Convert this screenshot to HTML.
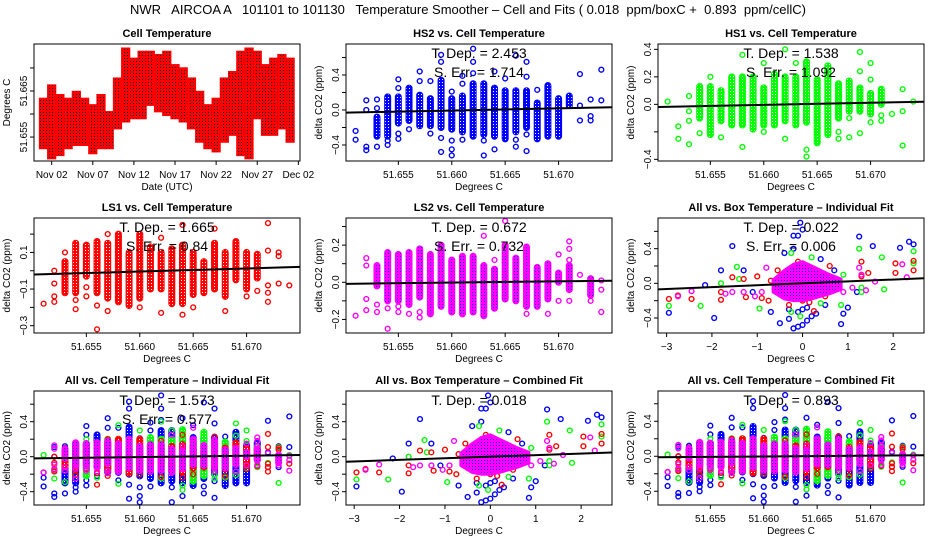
<!DOCTYPE html>
<html><head><meta charset="utf-8"><style>
html,body{margin:0;padding:0;background:#fff}
svg{display:block}
text{font-family:"Liberation Sans",sans-serif}
#mt{white-space:pre}
</style></head><body>
<svg id="c" width="936" height="540" viewBox="0 0 936 540">
<defs>
<pattern id="pRed" width="3" height="3" patternUnits="userSpaceOnUse"><rect width="3" height="3" fill="#f00"/><rect x="1" y="1" width="1" height="1" fill="#000"/></pattern>
<pattern id="pBlue" width="3" height="3" patternUnits="userSpaceOnUse"><rect width="3" height="3" fill="#00f"/><rect x="1" y="1" width="1" height="1" fill="#fff"/></pattern>
<pattern id="pGreen" width="3" height="3" patternUnits="userSpaceOnUse"><rect width="3" height="3" fill="#0f0"/><rect x="1" y="1" width="1" height="1" fill="#fff"/></pattern>
<pattern id="pRedW" width="3" height="3" patternUnits="userSpaceOnUse"><rect width="3" height="3" fill="#f00"/><rect x="1" y="1" width="1" height="1" fill="#fff"/></pattern>
<pattern id="pMag" width="3" height="3" patternUnits="userSpaceOnUse"><rect width="3" height="3" fill="#f0f"/><rect x="1" y="1" width="1" height="1" fill="#00f"/></pattern>
</defs>
<text id="mt" x="468" y="14" text-anchor="middle" font-size="13">NWR   AIRCOA A   101101 to 101130   Temperature Smoother – Cell and Fits ( 0.018  ppm/boxC +  0.893  ppm/cellC)</text>
</svg>
<script>
// ---- time series (cell temperature) ----
const tsDay=[1,2,3,4,5,6,7,8,9,10,11,12,13,14,15,16,17,18,19,20,21,22,23,24,25,26,27,28,29,30,31];
const tsHi=[51.6630,51.6659,51.6638,51.6630,51.6645,51.6630,51.6616,51.6638,51.6601,51.6674,51.6739,51.6717,51.6732,51.6732,51.6725,51.6732,51.6703,51.6696,51.6674,51.6645,51.6616,51.6630,51.6674,51.6688,51.6732,51.6739,51.6732,51.6703,51.6717,51.6725,51.6717];
const tsLo=[51.6529,51.6507,51.6514,51.6529,51.6536,51.6536,51.6518,51.6529,51.6529,51.6572,51.6587,51.6594,51.6594,51.6623,51.6609,51.6601,51.6594,51.6587,51.6572,51.6543,51.6529,51.6522,51.6543,51.6558,51.6514,51.6507,51.6594,51.6558,51.6558,51.6572,51.6543];
const tsTickDays=[2,7,12,17,22,27,32];
const tsTickLabels=["Nov 02","Nov 07","Nov 12","Nov 17","Nov 22","Nov 27","Dec 02"];
// ---- cell temperature bins ----
const cellBins=[51.651,51.652,51.653,51.654,51.655,51.656,51.657,51.658,51.659,51.660,51.661,51.662,51.663,51.664,51.665,51.666,51.667,51.668,51.669,51.670,51.671,51.672,51.673,51.674];
const hs2Hi=[null,null,-0.08,0.15,0.15,0.25,0.17,0.13,0.34,0.13,0.16,0.3,0.3,0.25,0.22,0.22,0.22,0.08,0.28,0.13,0.16,null,null,null];
const hs2Lo=[null,null,-0.3,-0.3,-0.15,-0.12,-0.18,-0.18,-0.2,-0.22,-0.25,-0.3,-0.28,-0.3,-0.33,-0.25,-0.2,-0.33,-0.3,-0.3,0.05,null,null,null];
const hs2Out=[[51.651,-0.24],[51.651,-0.34],[51.652,0.11],[51.652,0.0],[51.652,-0.42],[51.652,-0.46],[51.653,0.12],[51.653,0.02],[51.653,-0.42],[51.654,-0.35],[51.654,-0.4],[51.655,0.35],[51.655,0.25],[51.655,-0.27],[51.655,-0.33],[51.656,-0.22],[51.657,0.44],[51.657,0.33],[51.658,0.33],[51.658,-0.27],[51.659,0.63],[51.659,0.55],[51.659,-0.32],[51.659,-0.48],[51.660,0.21],[51.660,-0.35],[51.660,-0.45],[51.660,-0.52],[51.661,0.39],[51.661,0.3],[51.661,-0.34],[51.662,0.7],[51.662,0.55],[51.662,0.42],[51.663,-0.35],[51.663,-0.52],[51.664,0.44],[51.664,-0.45],[51.665,0.36],[51.666,0.62],[51.666,-0.34],[51.666,-0.42],[51.667,0.55],[51.667,0.38],[51.667,-0.28],[51.667,-0.47],[51.668,0.23],[51.672,0.41],[51.672,0.05],[51.672,-0.12],[51.673,0.12],[51.673,-0.07],[51.673,-0.12],[51.674,0.46],[51.674,0.11]];
const hs1Hi=[null,null,null,0.13,0.13,0.1,0.2,0.2,0.2,0.12,0.22,0.2,0.2,0.31,0.18,0.28,0.15,0.17,0.12,0.08,0.11,null,null,null];
const hs1Lo=[null,null,null,-0.1,-0.22,-0.12,-0.15,-0.15,-0.18,-0.15,-0.15,-0.12,-0.15,-0.13,-0.28,-0.22,-0.1,-0.05,-0.05,-0.07,0.0,null,null,null];
const hs1Out=[[51.651,0.02],[51.652,-0.16],[51.652,-0.25],[51.653,0.06],[51.653,-0.05],[51.653,-0.12],[51.653,-0.29],[51.654,-0.21],[51.655,0.2],[51.656,-0.24],[51.658,0.36],[51.658,-0.31],[51.660,0.3],[51.660,-0.2],[51.662,0.4],[51.662,-0.25],[51.663,0.3],[51.664,-0.33],[51.664,-0.38],[51.667,-0.2],[51.667,-0.25],[51.668,-0.1],[51.668,-0.24],[51.669,0.38],[51.669,0.24],[51.669,-0.21],[51.670,0.3],[51.670,0.18],[51.670,-0.13],[51.671,-0.08],[51.671,-0.12],[51.672,-0.07],[51.673,0.11],[51.673,-0.05],[51.673,-0.3],[51.674,0.02]];
const ls1Hi=[null,null,0.05,0.15,0.14,0.16,0.15,0.2,0.1,0.2,0.13,0.1,0.12,0.14,0.1,0.05,0.15,0.1,0.16,0.1,0.09,null,null,null];
const ls1Lo=[null,null,-0.12,-0.12,-0.03,-0.12,-0.15,-0.17,-0.19,-0.15,-0.1,-0.1,-0.18,-0.18,-0.13,-0.12,-0.1,-0.14,-0.05,-0.1,-0.04,null,null,null];
const ls1Out=[[51.651,-0.18],[51.652,0.0],[51.652,-0.07],[51.652,-0.14],[51.652,-0.17],[51.653,0.1],[51.654,-0.16],[51.654,-0.21],[51.655,-0.09],[51.655,-0.14],[51.656,-0.19],[51.656,-0.32],[51.657,0.2],[51.657,-0.22],[51.660,-0.2],[51.662,0.18],[51.662,-0.23],[51.664,0.25],[51.664,-0.24],[51.665,-0.2],[51.667,0.23],[51.668,-0.22],[51.670,-0.14],[51.671,-0.11],[51.672,0.26],[51.672,0.11],[51.672,-0.08],[51.672,-0.12],[51.672,-0.17],[51.673,0.1],[51.673,0.08],[51.673,-0.07],[51.674,-0.08]];
const ls2Hi=[null,null,0.09,0.16,0.15,0.16,0.18,0.15,0.2,0.12,0.14,0.14,0.09,0.07,0.2,0.13,0.19,0.08,0.1,0.05,0.09,null,0.02,null];
const ls2Lo=[null,null,-0.02,-0.1,-0.1,-0.12,-0.08,-0.17,-0.13,-0.16,-0.17,-0.16,-0.18,-0.14,-0.09,-0.1,-0.13,-0.13,-0.09,0.0,-0.04,null,-0.07,null];
const ls2Out=[[51.651,-0.18],[51.652,0.13],[51.652,0.09],[51.652,-0.09],[51.652,-0.15],[51.653,-0.12],[51.653,-0.16],[51.654,-0.14],[51.654,-0.25],[51.655,-0.13],[51.655,-0.16],[51.656,-0.17],[51.657,-0.16],[51.657,-0.19],[51.663,0.25],[51.664,0.12],[51.665,0.33],[51.667,-0.17],[51.669,-0.17],[51.670,0.15],[51.670,-0.1],[51.671,0.22],[51.671,0.18],[51.671,0.12],[51.671,-0.1],[51.672,0.04],[51.673,-0.1],[51.674,0.01],[51.674,-0.04],[51.674,-0.16]];
// ---- box temperature scatter ----
const blobX=[-0.65,-0.4,-0.2,0,0.2,0.4,0.6,0.85];
const blobHi=[0.04,0.15,0.22,0.25,0.2,0.15,0.1,0.05];
const blobLo=[-0.1,-0.18,-0.2,-0.2,-0.18,-0.15,-0.12,-0.07];
const boxBlue=[[-2.95,-0.34],[-1.95,-0.4],[-1.55,0.43],[-1.8,0.15],[-2.15,-0.02],[-1.3,0.15],[-0.7,-0.33],[-0.5,-0.46],[-0.3,-0.41],[-0.2,-0.52],[-0.1,-0.5],[0,-0.48],[0.1,-0.43],[0.2,-0.38],[0.3,-0.35],[-0.05,0.7],[0,0.62],[-0.2,0.55],[-0.1,0.55],[-0.2,0.4],[-0.4,0.35],[0.4,0.28],[0.85,-0.47],[0.9,-0.35],[1.0,-0.28],[1.25,0.54],[1.55,0.43],[1.2,-0.1],[2.15,0.41],[2.35,0.48],[2.45,0.45],[-0.3,-0.3],[0.5,-0.25],[0.7,0.15],[-1.1,-0.1],[-0.1,-0.33],[0.0,-0.3],[0.1,-0.28]];
const boxGreen=[[-2.95,-0.26],[-2.25,-0.26],[-1.45,0.19],[-1.8,0.0],[-0.95,-0.29],[-0.25,-0.33],[-0.05,-0.38],[0.2,0.3],[-0.25,0.35],[1.25,0.4],[1.75,0.3],[1.8,-0.07],[2.45,0.37],[2.45,0.23],[0.85,-0.25],[0.4,-0.23],[1.3,-0.05],[1.3,-0.1],[-1.4,0.05],[0.9,0.1]];
const boxRed=[[-2.95,-0.18],[-2.75,-0.14],[-2.45,-0.18],[-1.8,-0.1],[-1.8,-0.19],[-1.55,0.07],[-1.3,0.05],[-1.25,-0.16],[-1.0,0.08],[-0.9,-0.17],[-0.75,-0.2],[-0.7,0.03],[-0.55,0.15],[-0.3,-0.25],[-0.1,0.25],[0.15,-0.22],[0.25,-0.32],[0.5,-0.15],[0.6,0.2],[1.3,0.25],[1.45,0.12],[1.3,0.08],[2.05,0.23],[2.05,0.12],[2.45,0.26],[2.45,0.15],[0.0,-0.2],[0.4,0.12]];
const boxMag=[[-2.75,-0.15],[-2.45,-0.09],[-1.7,-0.12],[-1.55,-0.1],[-1.3,-0.1],[-1.05,-0.15],[-0.9,-0.1],[-0.8,0.18],[-0.4,0.1],[0.9,-0.1],[1.1,-0.05],[1.3,0.1],[1.4,-0.08],[1.6,0.02],[2.2,0.22],[2.3,0.07],[1.25,0.18]];
// fits
const fitSlopes=[2.453,1.538,1.665,0.672,0.022,1.573,0.018,0.893];
const fitCenterT=51.6625;

const NS="http://www.w3.org/2000/svg";
const svg=document.getElementById('c');
function mk(tag,attrs,parent){const e=document.createElementNS(NS,tag);for(const k in attrs)e.setAttribute(k,attrs[k]);(parent||svg).appendChild(e);return e;}
function txt(s,attrs,parent){const e=mk('text',attrs,parent);e.textContent=s;return e;}

function panel(cfg){
  const g=mk('g',{});
  
  
  const L=cfg.x,T=cfg.y,W=cfg.w,H=cfg.h;
  const sx=v=>L+(v-cfg.xd[0])/(cfg.xd[1]-cfg.xd[0])*W;
  const sy=v=>T+H-(v-cfg.yd[0])/(cfg.yd[1]-cfg.yd[0])*H;
  const clip='clip_'+cfg.name;
  const cp=mk('clipPath',{id:clip},g);mk('rect',{x:L,y:T,width:W,height:H},cp);
  const plot=mk('g',{'clip-path':'url(#'+clip+')'},g);
  
  
  cfg.draw(plot,sx,sy);
  const box=mk('rect',{x:L,y:T,width:W,height:H,fill:'none',stroke:'#000','stroke-width':1},g);
  
  
  const t=txt(cfg.title,{x:L+W/2,y:T-7,'text-anchor':'middle','font-size':11,'font-weight':'bold'},g);
  
  
  const xa=mk('g',{},g);
  
  
  const xt=cfg.xticks;
  mk('line',{x1:sx(xt[0]),x2:sx(xt[xt.length-1]),y1:T+H,y2:T+H,stroke:'#000'},xa);
  xt.forEach((v,i)=>{
    mk('line',{x1:sx(v),x2:sx(v),y1:T+H,y2:T+H+4,stroke:'#000'},xa);
    const lab=cfg.xlabels[i];
    if(lab!==null){const e=txt(lab,{x:sx(v),y:T+H+17,'text-anchor':'middle','font-size':10},xa);
      
      }
  });
  const xtl=txt(cfg.xtitle,{x:L+W/2,y:T+H+29,'text-anchor':'middle','font-size':10},g);
  
  
  const ya=mk('g',{},g);
  
  
  const yt=cfg.yticks;
  mk('line',{x1:L,x2:L,y1:sy(yt[0]),y2:sy(yt[yt.length-1]),stroke:'#000'},ya);
  yt.forEach((v,i)=>{
    mk('line',{x1:L-4,x2:L,y1:sy(v),y2:sy(v),stroke:'#000'},ya);
    const lab=cfg.ylabels[i];
    if(lab!==null){const e=txt(lab,{x:0,y:0,'text-anchor':'middle','font-size':10,transform:`translate(${L-7},${sy(v)}) rotate(-90)`},ya);
      
      }
  });
  const ytl=txt(cfg.ytitle,{x:0,y:0,'text-anchor':'middle','font-size':10,transform:`translate(${L-24},${T+H/2}) rotate(-90)`},g);
  
  
  if(cfg.stats){cfg.stats.forEach((s,i)=>{
    const e=txt(s,{x:L+W/2,y:T+14+i*19,'text-anchor':'middle','font-size':14},g);
    
    
  });}
}

function pt(p,x,y,col){
  const c=mk('circle',{cx:x,cy:y,r:2.4,fill:'none',stroke:col,'stroke-width':1.4},p);
  
  
}
function bands(p,sx,sy,hi,lo,out,col,pat){
  cellBins.forEach((b,i)=>{
    if(hi[i]===null)return;
    const x=sx(b),y1=sy(hi[i]),y2=sy(lo[i]);
    const r=mk('rect',{x:x-3,y:y1-3,width:6,height:y2-y1+6,rx:3,fill:pat,stroke:col,'stroke-width':1},p);
    
    
  });
  out.forEach(o=>pt(p,sx(o[0]),sy(o[1]),col));
}
function fit(p,sx,sy,k,xd,center){
  const l=mk('line',{x1:sx(xd[0]),y1:sy(k*(xd[0]-center)),x2:sx(xd[1]),y2:sy(k*(xd[1]-center)),stroke:'#000','stroke-width':2},p);
  
  
}
function boxScatter(p,sx,sy){
  boxBlue.forEach(o=>pt(p,sx(o[0]),sy(o[1]),'#00f'));
  boxGreen.forEach(o=>pt(p,sx(o[0]),sy(o[1]),'#0f0'));
  boxRed.forEach(o=>pt(p,sx(o[0]),sy(o[1]),'#f00'));
  boxMag.forEach(o=>pt(p,sx(o[0]),sy(o[1]),'#f0f'));
  let d='';
  blobX.forEach((x,i)=>{d+=(i?'L':'M')+sx(x)+','+sy(blobHi[i]);});
  for(let i=blobX.length-1;i>=0;i--)d+='L'+sx(blobX[i])+','+sy(blobLo[i]);
  const b=mk('path',{d:d+'Z',fill:'url(#pMag)',stroke:'#f0f','stroke-width':3,'stroke-linejoin':'round'},p);
  
  
}

const cols=[34,346,658],rows=[[44,117],[218,115],[391,114]],W=266;
const cX=[51.6501,51.6750];
const cTicks=[51.655,51.660,51.665,51.670],cLabs=["51.655","51.660","51.665","51.670"];
const bX=[-3.19,2.68],bTicks=[-3,-2,-1,0,1,2],bLabs=["−3","−2","−1","0","1","2"];
const yA=[-0.4,-0.2,0,0.2,0.4,0.6],yAL=["−0.4",null,"0.0",null,"0.4",null];
const YT='delta CO2 (ppm)';

panel({name:'cell-temperature-panel',x:cols[0],y:rows[0][0],w:W,h:rows[0][1],xd:[-0.15,32.2],yd:[51.6498,51.6752],
  title:'Cell Temperature',xticks:tsTickDays,xlabels:tsTickLabels,xtitle:'Date (UTC)',
  yticks:[51.655,51.660,51.665,51.670],ylabels:["51.655",null,"51.665",null],ytitle:'Degrees C',
  draw:(p,sx,sy)=>{tsDay.forEach((d,i)=>{
    const r=mk('rect',{x:sx(d-0.5),y:sy(tsHi[i])-2,width:sx(d+0.5)-sx(d-0.5),height:sy(tsLo[i])-sy(tsHi[i])+4,fill:'url(#pRed)',stroke:'#f00','stroke-width':1},p);
    
    
  });}});
panel({name:'hs2-panel',x:cols[1],y:rows[0][0],w:W,h:rows[0][1],xd:cX,yd:[-0.583,0.754],title:'HS2 vs. Cell Temperature',
  xticks:cTicks,xlabels:cLabs,xtitle:'Degrees C',yticks:yA,ylabels:yAL,ytitle:YT,stats:['T. Dep. =  2.453','S. Err. =  1.714'],
  draw:(p,sx,sy)=>{bands(p,sx,sy,hs2Hi,hs2Lo,hs2Out,'#00f','url(#pBlue)');fit(p,sx,sy,fitSlopes[0],cX,fitCenterT);}});
panel({name:'hs1-panel',x:cols[2],y:rows[0][0],w:W,h:rows[0][1],xd:cX,yd:[-0.412,0.439],title:'HS1 vs. Cell Temperature',
  xticks:cTicks,xlabels:cLabs,xtitle:'Degrees C',yticks:[-0.4,-0.2,0,0.2,0.4],ylabels:["−0.4",null,"0.0","0.2","0.4"],ytitle:YT,stats:['T. Dep. =  1.538','S. Err. =  1.092'],
  draw:(p,sx,sy)=>{bands(p,sx,sy,hs1Hi,hs1Lo,hs1Out,'#0f0','url(#pGreen)');fit(p,sx,sy,fitSlopes[1],cX,fitCenterT);}});
panel({name:'ls1-panel',x:cols[0],y:rows[1][0],w:W,h:rows[1][1],xd:cX,yd:[-0.34,0.288],title:'LS1 vs. Cell Temperature',
  xticks:cTicks,xlabels:cLabs,xtitle:'Degrees C',yticks:[-0.3,-0.2,-0.1,0,0.1,0.2],ylabels:["−0.3",null,"−0.1",null,"0.1",null],ytitle:YT,stats:['T. Dep. =  1.665','S. Err. =  0.84'],
  draw:(p,sx,sy)=>{bands(p,sx,sy,ls1Hi,ls1Lo,ls1Out,'#f00','url(#pRedW)');fit(p,sx,sy,fitSlopes[2],cX,fitCenterT);}});
panel({name:'ls2-panel',x:cols[1],y:rows[1][0],w:W,h:rows[1][1],xd:cX,yd:[-0.273,0.346],title:'LS2 vs. Cell Temperature',
  xticks:cTicks,xlabels:cLabs,xtitle:'Degrees C',yticks:[-0.2,-0.1,0,0.1,0.2,0.3],ylabels:["−0.2",null,"0.0",null,"0.2",null],ytitle:YT,stats:['T. Dep. =  0.672','S. Err. =  0.732'],
  draw:(p,sx,sy)=>{bands(p,sx,sy,ls2Hi,ls2Lo,ls2Out,'#f0f','url(#pMag)');fit(p,sx,sy,fitSlopes[3],cX,fitCenterT);}});
panel({name:'box-individual-panel',x:cols[2],y:rows[1][0],w:W,h:rows[1][1],xd:bX,yd:[-0.573,0.754],title:'All vs. Box Temperature – Individual Fit',
  xticks:bTicks,xlabels:bLabs,xtitle:'Degrees C',yticks:yA,ylabels:yAL,ytitle:YT,stats:['T. Dep. =  0.022','S. Err. =  0.006'],
  draw:(p,sx,sy)=>{boxScatter(p,sx,sy);fit(p,sx,sy,fitSlopes[4],bX,0);}});
function allCell(p,sx,sy){
  bands(p,sx,sy,hs2Hi,hs2Lo,hs2Out,'#00f','url(#pBlue)');
  bands(p,sx,sy,hs1Hi,hs1Lo,hs1Out,'#0f0','url(#pGreen)');
  bands(p,sx,sy,ls1Hi,ls1Lo,ls1Out,'#f00','url(#pRedW)');
  bands(p,sx,sy,ls2Hi,ls2Lo,ls2Out,'#f0f','url(#pMag)');
}
panel({name:'cell-individual-panel',x:cols[0],y:rows[2][0],w:W,h:rows[2][1],xd:cX,yd:[-0.552,0.751],title:'All vs. Cell Temperature – Individual Fit',
  xticks:cTicks,xlabels:cLabs,xtitle:'Degrees C',yticks:yA,ylabels:yAL,ytitle:YT,stats:['T. Dep. =  1.573','S. Err. =  0.577'],
  draw:(p,sx,sy)=>{allCell(p,sx,sy);fit(p,sx,sy,fitSlopes[5],cX,fitCenterT);}});
panel({name:'box-combined-panel',x:cols[1],y:rows[2][0],w:W,h:rows[2][1],xd:[-3.18,2.68],yd:[-0.552,0.751],title:'All vs. Box Temperature – Combined Fit',
  xticks:bTicks,xlabels:bLabs,xtitle:'Degrees C',yticks:yA,ylabels:yAL,ytitle:YT,stats:['T. Dep. =  0.018'],
  draw:(p,sx,sy)=>{boxScatter(p,sx,sy);fit(p,sx,sy,fitSlopes[6],[-3.18,2.68],0);}});
panel({name:'cell-combined-panel',x:cols[2],y:rows[2][0],w:W,h:rows[2][1],xd:cX,yd:[-0.557,0.746],title:'All vs. Cell Temperature – Combined Fit',
  xticks:cTicks,xlabels:cLabs,xtitle:'Degrees C',yticks:yA,ylabels:yAL,ytitle:YT,stats:['T. Dep. =  0.893'],
  draw:(p,sx,sy)=>{allCell(p,sx,sy);fit(p,sx,sy,fitSlopes[7],cX,fitCenterT);}});
</script>
</body></html>
